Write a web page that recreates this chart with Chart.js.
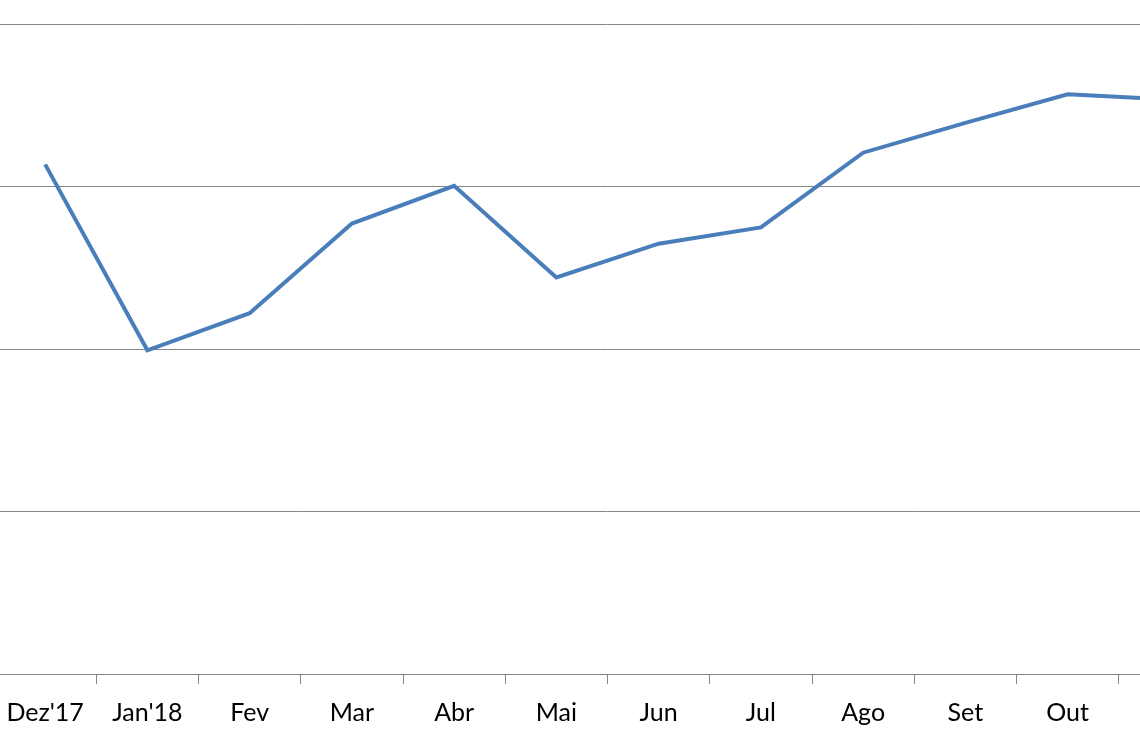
<!DOCTYPE html>
<html>
<head>
<meta charset="utf-8">
<script src="https://cdn.jsdelivr.net/npm/chart.js@4.4.1/dist/chart.umd.min.js"></script>
<style>
  html, body { margin: 0; padding: 0; background: #ffffff; }
  #wrap { position: relative; width: 1140px; height: 742px; overflow: hidden; background: #ffffff; }
  #c { position: absolute; left: -130px; top: 0; }
</style>
</head>
<body>
<div id="wrap"><canvas id="c" width="1400" height="742"></canvas></div>
<script>
const categories = ["Dez'17", "Jan'18", "Fev", "Mar", "Abr", "Mai", "Jun", "Jul", "Ago", "Set", "Out", "Nov"];
const values = [78.4, 49.8, 55.5, 69.3, 75.1, 61.0, 66.2, 68.7, 80.2, 84.8, 89.2, 88.4];
const yMin = 0, yMax = 100, yStep = 25;

new Chart(document.getElementById('c'), {
  type: 'line',
  data: {
    labels: categories,
    datasets: [{
      data: values,
      borderColor: '#4a7ebb',
      borderWidth: 4,
      pointRadius: 0,
      pointHoverRadius: 0,
      tension: 0,
      fill: false
    }]
  },
  options: {
    responsive: false,
    animation: false,
    devicePixelRatio: 1,
    layout: { padding: { left: 124, right: 49, top: 24, bottom: 0 } },
    plugins: { legend: { display: false }, tooltip: { enabled: false } },
    scales: {
      x: {
        offset: true,
        grid: { display: true, drawOnChartArea: false, drawTicks: true, tickLength: 10, color: '#868686', offset: true },
        border: { display: true, color: '#868686', width: 1 },
        ticks: { autoSkip: false, maxRotation: 0, color: '#000000', padding: 14, font: { family: 'Lato', size: 25 } },
        afterFit: (s) => { s.height = 68; }
      },
      y: {
        min: yMin, max: yMax,
        ticks: { display: false, stepSize: yStep },
        grid: { color: '#868686', lineWidth: 1, drawTicks: false },
        border: { display: false },
        afterFit: (s) => { s.width = 0; }
      }
    }
  }
});
</script>
</body>
</html>
